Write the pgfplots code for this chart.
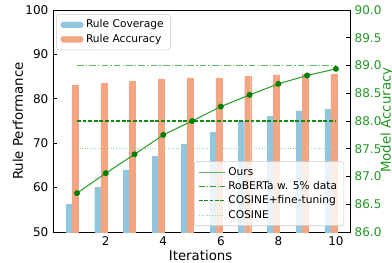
\documentclass[border=0pt]{standalone}
\usepackage{pgfplots}
\pgfplotsset{compat=1.18}
\usepackage{fontspec}
\setmainfont{DejaVu Sans}
\definecolor{cov}{HTML}{92C5DE}
\definecolor{acc}{HTML}{F4A582}
\definecolor{ourline}{RGB}{44,160,44}
\definecolor{ourmark}{RGB}{0,128,0}
\definecolor{cftgreen}{RGB}{20,135,20}
\definecolor{robgreen}{RGB}{95,185,95}
\definecolor{robgreenleg}{RGB}{40,160,40}
\definecolor{cosgreen}{RGB}{150,215,150}
\definecolor{tickgreen}{RGB}{34,150,34}
\begin{document}
\begin{tikzpicture}
\useasboundingbox (0,0) rectangle (294pt,196.5pt);
\begin{axis}[
  at={(39.75pt,22.5pt)}, anchor=south west,
  width=222.75pt, height=166.5pt, scale only axis,
  xmin=0.165, xmax=10.49, ymin=50, ymax=100,
  xtick={2,4,6,8,10}, ytick={50,60,70,80,90,100},
  xtick pos=bottom, ytick pos=left, tick align=inside,
  major tick length=3pt,
  tick style={black, line width=0.6pt},
  axis line style={line width=0.75pt},
  /pgf/number format/assume math mode=true,
  ticklabel style={font=\fontsize{9}{10.8}\selectfont},
  xlabel={Iterations}, ylabel={Rule Performance},
  label style={font=\fontsize{10}{12}\selectfont},
  every axis y label/.style={at={(axis description cs:-0.118,0.5)}, rotate=90, anchor=center},
  every axis x label/.style={at={(axis description cs:0.497,-0.104)}, anchor=center},
  legend style={at={(axis description cs:0.011,0.982)}, anchor=north west,
    font=\fontsize{8}{9.6}\selectfont, nodes={font=\fontsize{8}{9.6}\selectfont, inner ysep=1.2pt},
    draw=black!20, rounded corners=2pt,
    row sep=0.8pt, inner sep=3pt},
  legend cell align=left,
]
\addplot[ybar, bar width=0.21, bar shift=0pt, fill=cov, draw=cov, line width=0.1pt,
  legend image code/.code={\fill[cov] (0pt,-2.25pt) rectangle (17pt,2.25pt);}] coordinates {
 (0.72,56.3) (1.72,60.1) (2.72,64.0) (3.72,67.1) (4.72,69.8)
 (5.72,72.5) (6.72,75.0) (7.72,76.1) (8.72,77.3) (9.72,77.7)};
\addlegendentry{Rule Coverage}
\addplot[ybar, bar width=0.21, bar shift=0pt, fill=acc, draw=acc, line width=0.1pt,
  legend image code/.code={\fill[acc] (0pt,-2.25pt) rectangle (17pt,2.25pt);}] coordinates {
 (0.93,83.1) (1.93,83.6) (2.93,84.0) (3.93,84.5) (4.93,84.7)
 (5.93,84.7) (6.93,85.1) (7.93,85.4) (8.93,85.6) (9.93,85.6)};
\addlegendentry{Rule Accuracy}
\end{axis}
\begin{axis}[
  at={(39.75pt,22.5pt)}, anchor=south west,
  width=222.75pt, height=166.5pt, scale only axis,
  xmin=0.165, xmax=10.49, ymin=86, ymax=90,
  hide x axis,
  axis y line*=right,
  ytick={86,86.5,87,87.5,88,88.5,89,89.5,90},
  tick align=inside, major tick length=3pt,
  tick style={black, line width=0.6pt},
  axis line style={line width=0.75pt},
  /pgf/number format/assume math mode=true,
  yticklabel style={font=\fontsize{9}{10.8}\selectfont, text=tickgreen,
    /pgf/number format/fixed, /pgf/number format/fixed zerofill, /pgf/number format/precision=1},
  ylabel={Model Accuracy},
  every axis y label/.style={at={(axis description cs:1.124,0.504)}, rotate=90, anchor=center,
    font=\fontsize{10}{12}\selectfont, text=tickgreen},
  legend style={at={(axis description cs:0.98,0.027)}, anchor=south east,
    font=\fontsize{8}{9.6}\selectfont, nodes={font=\fontsize{8}{9.6}\selectfont, inner ysep=1.2pt},
    draw=black!20, rounded corners=2pt,
    fill=white, fill opacity=0.8, text opacity=1, draw opacity=1,
    row sep=0.8pt, inner sep=3pt},
  legend cell align=left,
]
\addplot[color=ourline, line width=0.8pt, mark=*, mark size=1.8pt,
  mark options={fill=ourmark, draw=ourmark},
  legend image code/.code={\draw[ourline!75, line width=1pt] (0pt,0pt) -- (19.5pt,0pt);}]
 coordinates {(1,86.70) (2,87.06) (3,87.40) (4,87.75) (5,88.00)
  (6,88.26) (7,88.47) (8,88.67) (9,88.82) (10,88.94)};
\addlegendentry{Ours}
\addplot[draw=robgreen, color=robgreen, line width=0.85pt, dash pattern=on 5pt off 1.6pt on 1pt off 1.6pt,
  legend image code/.code={\draw[robgreenleg, line width=0.8pt, dash pattern=on 4.8pt off 1.2pt on 0.8pt off 1.2pt] (0pt,0pt) -- (19.5pt,0pt);}]
 coordinates {(1,89.0) (10,89.0)};
\addlegendentry{RoBERTa w. 5\% data}
\addplot[draw=cftgreen, color=cftgreen, line width=0.8pt, dash pattern=on 2.8pt off 1.4pt,
  legend image code/.code={\draw[cftgreen, line width=0.8pt, dash pattern=on 2.8pt off 1.2pt] (0pt,0pt) -- (19.5pt,0pt);}]
 coordinates {(1,88.0) (10,88.0)};
\addlegendentry{COSINE+fine-tuning}
\addplot[draw=cosgreen, color=cosgreen, line width=0.9pt, dash pattern=on 0.75pt off 1.2pt,
  legend image code/.code={\draw[cosgreen, line width=0.9pt, dash pattern=on 0.75pt off 1.2pt] (0pt,0pt) -- (19.5pt,0pt);}]
 coordinates {(1,87.5) (10,87.5)};
\addlegendentry{COSINE}
\end{axis}
\end{tikzpicture}
\end{document}
